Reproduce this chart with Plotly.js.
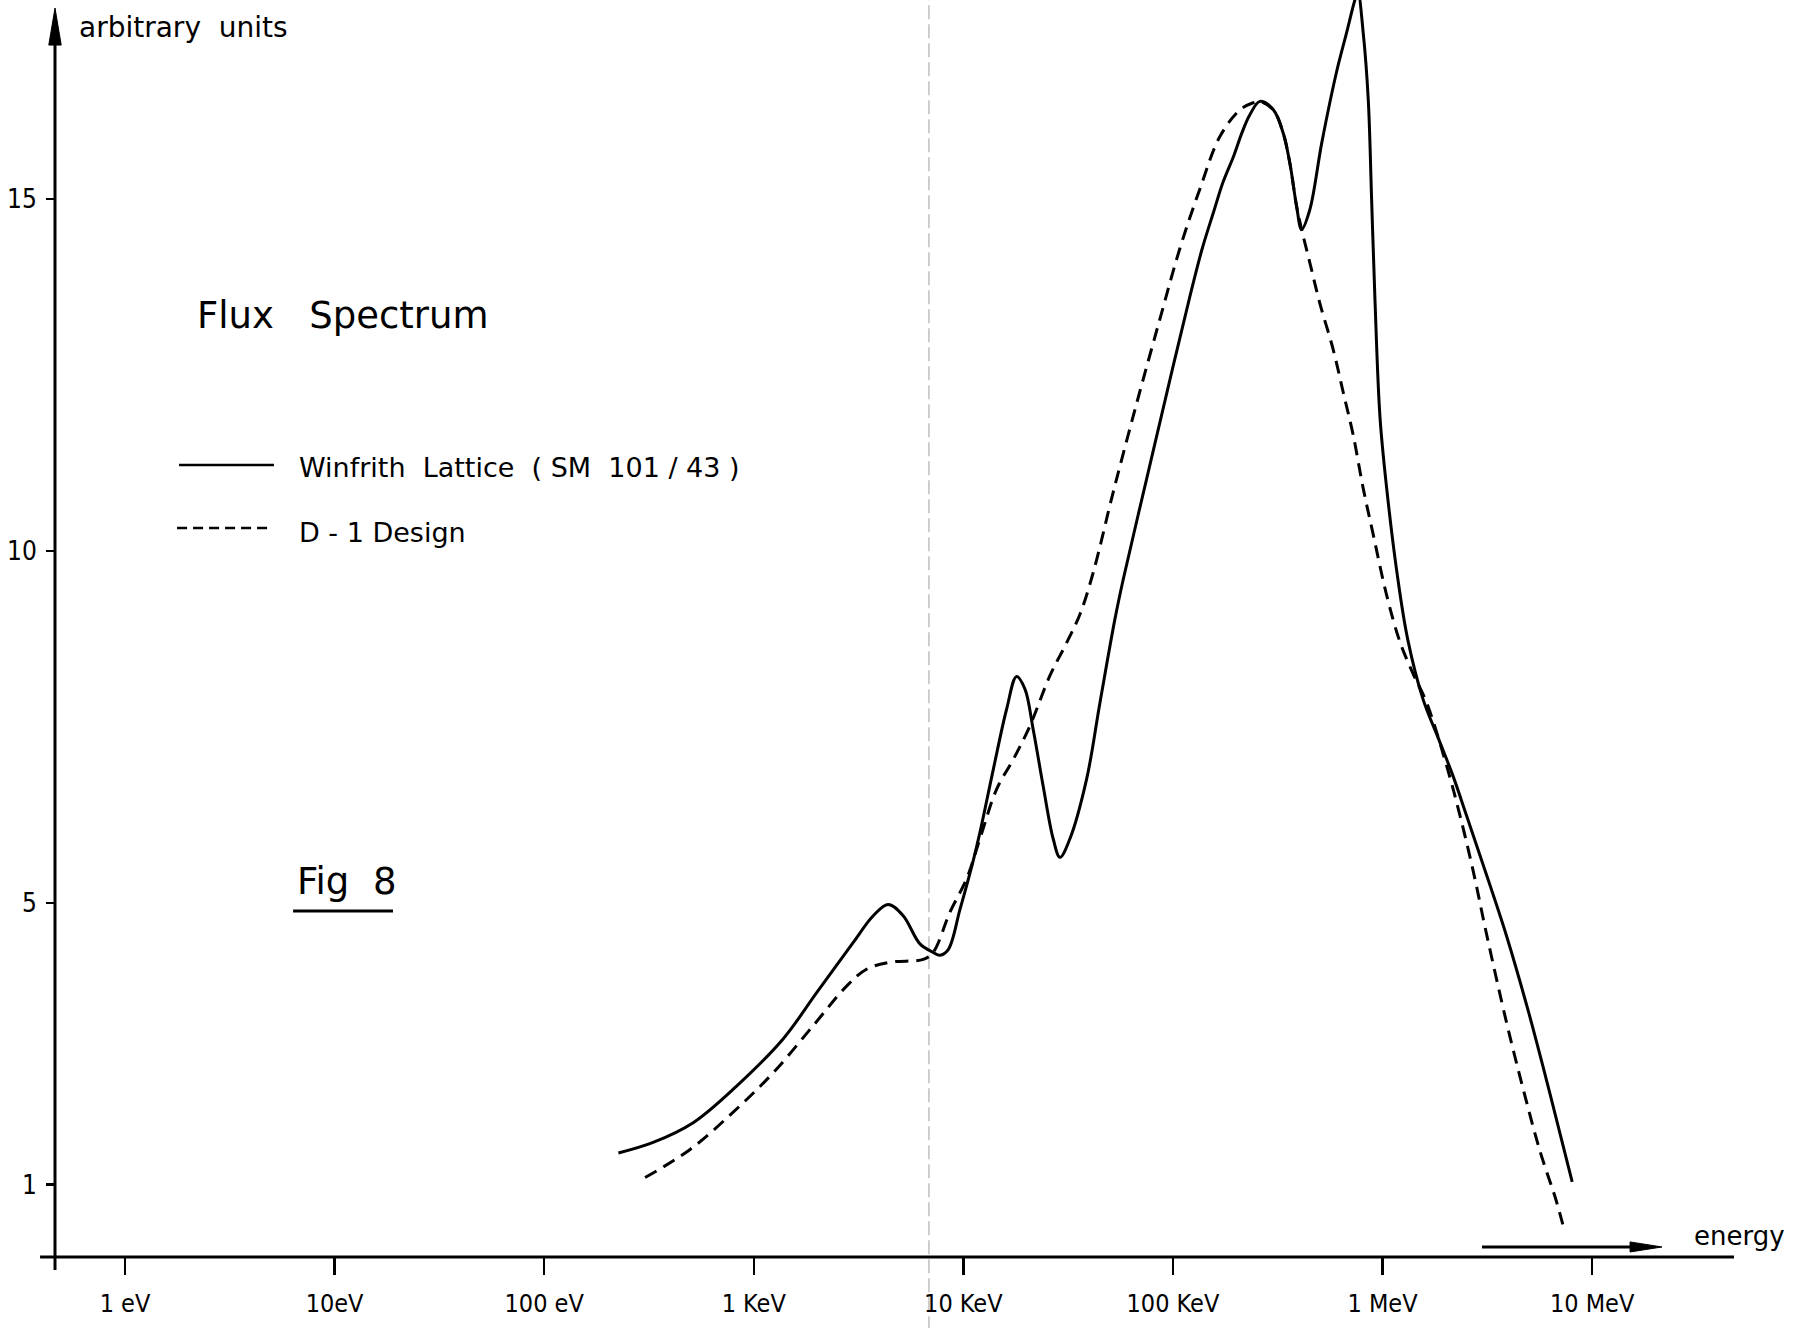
<!DOCTYPE html>
<html>
<head>
<meta charset="utf-8">
<script src="https://cdn.plot.ly/plotly-3.0.1.min.js"></script>
<style>
  html, body { margin: 0; padding: 0; background: #ffffff; }
  #chart { width: 1803px; height: 1328px; }
</style>
</head>
<body>
<div id="chart"></div>
<script>
// ---- Data (energy in eV, flux in arbitrary units) ----
const winfrithEnergy = [
  226, 331, 514, 828, 1380, 2000, 2985, 3715, 4385, 5164, 6209, 7178, 7727, 8472, 9638,
  11140, 11990, 13900, 16070, 17950, 19680, 21530, 24040, 26850, 28910, 32210, 38730,
  44870, 52840, 57940, 74820, 96830, 120500, 138000, 155600, 173800, 194100, 213800,
  232800, 260000, 301300, 335700, 361400, 389000, 411100, 449800, 512900, 602600,
  673000, 737900, 762100, 809100, 855100, 887200, 920400, 972700, 1047000, 1175000,
  1318000, 1563000, 1841000, 2173000, 2512000, 2992000, 3890000, 4966000, 6310000, 8035000
];
const winfrithFlux = [
  1.45, 1.60, 1.88, 2.40, 3.07, 3.73, 4.44, 4.82, 4.98, 4.82, 4.42, 4.30, 4.26, 4.34, 4.91,
  5.60, 6.00, 6.90, 7.75, 8.22, 8.04, 7.47, 6.66, 5.91, 5.65, 5.91, 6.76,
  7.85, 9.03, 9.60, 11.02, 12.44, 13.62, 14.30, 14.80, 15.25, 15.60, 15.95,
  16.20, 16.39, 16.27, 15.94, 15.51, 14.90, 14.57, 14.85, 15.80, 16.80,
  17.36, 17.83, 17.95, 17.36, 16.41, 14.99, 13.57, 11.90, 10.89, 9.67,
  8.75, 7.89, 7.35, 6.80, 6.25, 5.58, 4.55, 3.46, 2.28, 1.04
];

const d1Energy = [
  303, 497, 798, 1239, 1923, 2773, 3451, 4467, 6442, 7178, 8630, 10380, 11990, 14420,
  17300, 20800, 25880, 31120, 35970, 41690, 52000, 67140, 86700, 107900, 134600, 167500,
  208900, 241500, 260000, 301300, 335700, 361400, 389000, 411100, 449800, 501200, 582100,
  650100, 724400, 809100, 903600, 1047000, 1211000, 1403000, 1622000, 2023000, 2339000,
  2710000, 3141000, 3908000, 4688000, 5636000, 6761000, 7413000
];
const d1Flux = [
  1.10, 1.50, 2.03, 2.59, 3.26, 3.82, 4.06, 4.16, 4.20, 4.30, 4.87, 5.35, 5.91, 6.62,
  7.04, 7.52, 8.23, 8.70, 9.10, 9.70, 10.85, 12.10, 13.30, 14.30, 15.15, 15.89,
  16.27, 16.37, 16.39, 16.27, 15.94, 15.51, 14.90, 14.57, 14.10, 13.53, 12.86,
  12.25, 11.65, 10.89, 10.23, 9.37, 8.71, 8.25, 7.85, 6.95, 6.25,
  5.45, 4.55, 3.30, 2.36, 1.48, 0.76, 0.32
];

const xTickValues = [1, 10, 100, 1000, 10000, 100000, 1000000, 10000000];
const xTickLabels = ["1 eV", "10eV", "100 eV", "1 KeV", "10 KeV", "100 KeV", "1 MeV", "10 MeV"];
const yTickValues = [1, 5, 10, 15];
const yTickLabels = ["1", "5", "10", "15"];

const seriesNames = ["Winfrith\u00a0 Lattice\u00a0 (\u00a0SM\u00a0 101\u00a0/\u00a043\u00a0)", "D - 1 Design"];

// ---- Chart ----
const tickFont = { family: "'Liberation Sans Narrow', 'DejaVu Sans Condensed', 'Liberation Sans', Arial, sans-serif", size: 25, color: "#000" };
const textFont = "'DejaVu Sans', 'Liberation Sans', sans-serif";

const traces = [
  {
    x: winfrithEnergy, y: winfrithFlux, name: seriesNames[0], type: "scatter", mode: "lines",
    line: { color: "#000", width: 3, shape: "spline", smoothing: 1.0 },
    showlegend: false
  },
  {
    x: d1Energy, y: d1Flux, name: seriesNames[1], type: "scatter", mode: "lines",
    line: { color: "#000", width: 3, dash: "13px,8px", shape: "spline", smoothing: 1.0 },
    showlegend: false
  }
];

const layout = {
  width: 1803, height: 1328,
  margin: { l: 55, r: 69, t: 0, b: 73, pad: 0 },
  paper_bgcolor: "#fff", plot_bgcolor: "#fff",
  showlegend: false,
  xaxis: {
    type: "log", range: [-0.334, 7.677],
    tickmode: "array", tickvals: xTickValues, ticktext: xTickLabels,
    ticks: "outside", ticklen: 19, tickwidth: 2.5, tickcolor: "#000",
    showline: false, showgrid: false, zeroline: false,
    tickfont: tickFont, ticklabelstandoff: 7
  },
  yaxis: {
    type: "linear", range: [0, 17.83],
    tickmode: "array", tickvals: yTickValues, ticktext: yTickLabels,
    ticks: "outside", ticklen: 8, tickwidth: 2.5, tickcolor: "#000",
    showline: false, showgrid: false, zeroline: false,
    tickfont: Object.assign({}, tickFont, { size: 26 }), ticklabelstandoff: 4
  },
  shapes: [
    // scan fold line
    { type: "line", xref: "paper", yref: "paper", x0: 0.5205, x1: 0.5205, y0: -0.06, y1: 1,
      line: { color: "rgba(140,140,140,0.55)", width: 1.5, dash: "14px,5px" }, layer: "below" },
    // y axis with arrow
    { type: "line", xref: "paper", yref: "paper", x0: 0, x1: 0, y0: -0.012, y1: 0.968,
      line: { color: "#000", width: 3 } },
    { type: "path", xref: "paper", yref: "paper",
      path: "M -0.0037 0.9641 L 0 0.9936 L 0.0037 0.9641 Z",
      fillcolor: "#000", line: { color: "#000", width: 1 } },
    // x axis
    { type: "line", xref: "paper", yref: "paper", x0: -0.0089, x1: 1.0, y0: -0.0016, y1: -0.0016,
      line: { color: "#000", width: 3 } },
    // energy arrow
    { type: "line", xref: "paper", yref: "paper", x0: 0.8499, x1: 0.9400, y0: 0.0064, y1: 0.0064,
      line: { color: "#000", width: 3 } },
    { type: "path", xref: "paper", yref: "paper",
      path: "M 0.9381 0.0024 L 0.9571 0.0064 L 0.9381 0.0104 Z",
      fillcolor: "#000", line: { color: "#000", width: 1 } },
    // legend samples
    { type: "line", xref: "paper", yref: "paper", x0: 0.0739, x1: 0.1304, y0: 0.6295, y1: 0.6295,
      line: { color: "#000", width: 2.5 } },
    { type: "line", xref: "paper", yref: "paper", x0: 0.0727, x1: 0.1287, y0: 0.5793, y1: 0.5793,
      line: { color: "#000", width: 2.5, dash: "10px,6px" } },
    // Fig 8 underline
    { type: "line", xref: "paper", yref: "paper", x0: 0.1418, x1: 0.2013, y0: 0.2741, y1: 0.2741,
      line: { color: "#000", width: 3 } }
  ],
  annotations: [
    { text: "arbitrary\u00a0 units", xref: "paper", yref: "paper", x: 0.0131, y: 0.978,
      xanchor: "left", yanchor: "middle", showarrow: false,
      font: { family: textFont, size: 28, color: "#000" } },
    { text: "Flux\u00a0\u00a0 Spectrum", xref: "paper", yref: "paper", x: 0.0834, y: 0.749,
      xanchor: "left", yanchor: "middle", showarrow: false,
      font: { family: textFont, size: 37, color: "#000" } },
    { text: seriesNames[0], xref: "paper", yref: "paper", x: 0.1441, y: 0.6271,
      xanchor: "left", yanchor: "middle", showarrow: false,
      font: { family: textFont, size: 27, color: "#000" } },
    { text: seriesNames[1], xref: "paper", yref: "paper", x: 0.1441, y: 0.5753,
      xanchor: "left", yanchor: "middle", showarrow: false,
      font: { family: textFont, size: 27, color: "#000" } },
    { text: "Fig\u00a0 8", xref: "paper", yref: "paper", x: 0.1429, y: 0.298,
      xanchor: "left", yanchor: "middle", showarrow: false,
      font: { family: textFont, size: 37, color: "#000" } },
    { text: "energy", xref: "paper", yref: "paper", x: 0.975, y: 0.0151,
      xanchor: "left", yanchor: "middle", showarrow: false,
      font: { family: textFont, size: 26, color: "#000" } }
  ]
};

Plotly.newPlot("chart", traces, layout, { displayModeBar: false, staticPlot: true });
</script>
</body>
</html>
